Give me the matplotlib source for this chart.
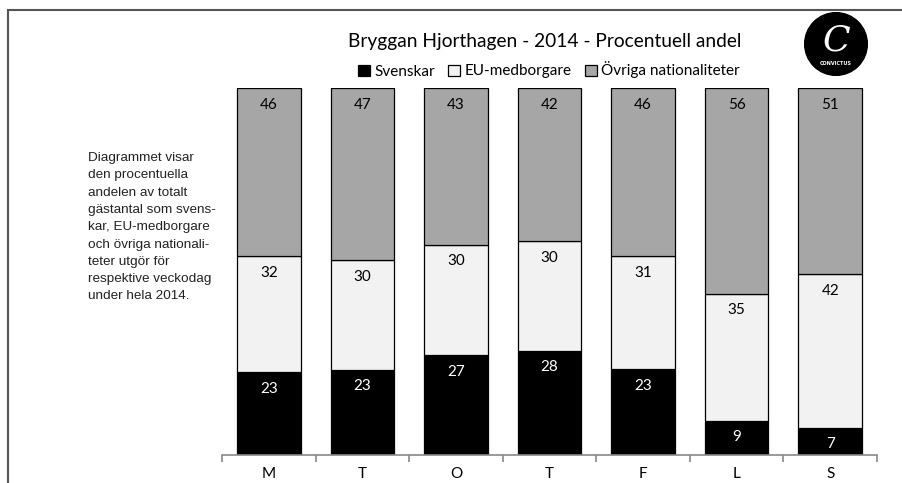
import numpy as np
import matplotlib.pyplot as plt
from matplotlib.patches import Rectangle, Circle

# data
days = ['M', 'T', 'O', 'T', 'F', 'L', 'S']
svenskar = [22.6, 23.2, 27.2, 28.4, 23.4, 9.3, 7.4]
eu_medborgare = [31.6, 29.8, 30.1, 29.9, 30.8, 34.6, 41.8]
ovriga = [45.8, 47.0, 42.7, 41.7, 45.8, 56.1, 50.8]
labels_sv = ['23', '23', '27', '28', '23', '9', '7']
labels_eu = ['32', '30', '30', '30', '31', '35', '42']
labels_ov = ['46', '47', '43', '42', '46', '56', '51']
series_names = ['Svenskar', 'EU-medborgare', 'Övriga nationaliteter']
colors = ['#000000', '#f2f2f2', '#a6a6a6']
text_colors = ['white', 'black', 'black']

W, H = 902, 483
fig = plt.figure(figsize=(W / 100, H / 100), dpi=100)
font = 'Lato'

# ram runt hela bilden
fig.patches.append(Rectangle((8 / W, -0.1), 1.2, (H - 10) / H + 0.1, transform=fig.transFigure,
                             fill=False, edgecolor='#555555', linewidth=1.5))

ax = fig.add_axes([222 / W, (H - 455) / H, (877 - 222) / W, (455 - 88) / H])
x = np.arange(len(days))
bottom = np.zeros(len(days))
series = [svenskar, eu_medborgare, ovriga]
labels = [labels_sv, labels_eu, labels_ov]
bars = []
for vals, lab, c, tc, name in zip(series, labels, colors, text_colors, series_names):
    b = ax.bar(x, vals, width=0.68, bottom=bottom, color=c, edgecolor='black',
               linewidth=0.9, label=name)
    bars.append(b)
    for xi, bt, v, l in zip(x, bottom, vals, lab):
        ax.text(xi, bt + v - 2.6, l, ha='center', va='top', color=tc,
                fontsize=11, family=font)
    bottom = bottom + np.array(vals)

ax.set_xlim(-0.5, len(days) - 0.5)
ax.set_ylim(0, 100)
ax.set_yticks([])
for s in ['top', 'right', 'left']:
    ax.spines[s].set_visible(False)
ax.spines['bottom'].set_color('#888888')
ax.spines['bottom'].set_linewidth(1.2)
ax.set_xticks(x)
ax.set_xticklabels(days, fontsize=11, family=font)
ax.tick_params(axis='x', length=0, pad=9)
ax.set_xticks(np.arange(-0.5, len(days)), minor=True)
ax.tick_params(axis='x', which='minor', length=5, color='#888888', width=1.2)

fig.text(545 / W, 1 - 42 / H, 'Bryggan Hjorthagen - 2014 - Procentuell andel',
         ha='center', va='center', fontsize=13.8, family=font)
fig.legend(handles=bars, labels=series_names, loc='center', bbox_to_anchor=(549 / W, 1 - 70 / H),
           ncol=3, frameon=False, prop={'family': font, 'size': 11},
           handlelength=0.75, handleheight=0.75, handletextpad=0.3, columnspacing=0.9)

desc = ("Diagrammet visar\nden procentuella\nandelen av totalt\ngästantal som svens-\n"
        "kar, EU-medborgare\noch övriga nationali-\nteter utgör för\nrespektive veckodag\nunder hela 2014.")
fig.text(88 / W, 1 - 152 / H, desc, ha='left', va='top', fontsize=9.7,
         family='Liberation Sans', linespacing=1.59, color='#222222')

# logga
lax = fig.add_axes([804 / W, 1 - 76 / H, 64 / W, 64 / H])
lax.set_xlim(-1, 1)
lax.set_ylim(-1, 1)
lax.set_aspect('equal')
lax.axis('off')
lax.add_patch(Circle((0, 0), 0.98, color='black'))
lax.text(0, 0.12, 'C', ha='center', va='center', color='white', fontsize=26,
         family='DejaVu Serif', style='italic')
lax.text(0, -0.6, 'CONVICTUS', ha='center', va='center', color='white', fontsize=3.5,
         family='DejaVu Sans', weight='bold')

fig.savefig('out.png', dpi=100)
